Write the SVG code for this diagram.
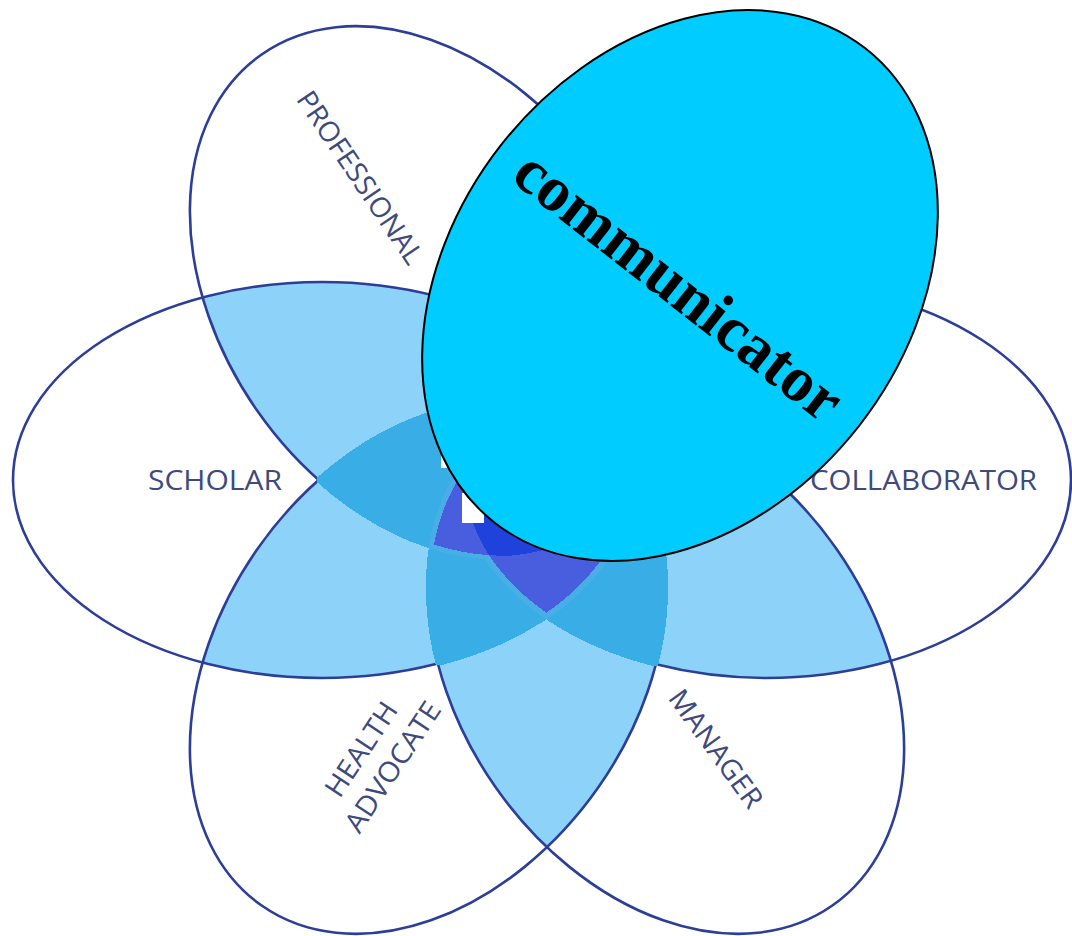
<svg xmlns="http://www.w3.org/2000/svg" width="1072" height="936" viewBox="0 0 1072 936">
<style>
.petal{fill:#000;fill-opacity:.15;stroke:none}
.outline{fill:none;stroke:#2C3E98;stroke-width:2.6}
.lbl{font-family:"Open Sans","Liberation Sans",sans-serif;font-size:28px;fill:#3E4A7C}
.comm{font-family:"Liberation Serif","Times New Roman",serif;font-weight:bold;font-size:64px;fill:#000}
</style>
<defs>
<ellipse id="e-scholar" cx="322" cy="480" rx="309" ry="198"/>
<ellipse id="e-collaborator" cx="767" cy="480" rx="304" ry="198"/>
<ellipse id="e-professional" cx="428" cy="292" rx="290" ry="208" transform="rotate(55 428 292)"/>
<ellipse id="e-communicator" cx="666" cy="292" rx="290" ry="208" transform="rotate(-55 666 292)"/>
<ellipse id="e-health" cx="428" cy="668" rx="290" ry="208" transform="rotate(-55 428 668)"/>
<ellipse id="e-manager" cx="666" cy="668" rx="290" ry="208" transform="rotate(55 666 668)"/>
<filter id="levels" filterUnits="userSpaceOnUse" x="0" y="0" width="1072" height="936" color-interpolation-filters="sRGB">
<feColorMatrix type="matrix" values="0 0 0 1 0 0 0 0 1 0 0 0 0 1 0 0 0 0 0 1"/>
<feComponentTransfer>
<feFuncR type="discrete" tableValues="1 1 1 1 1 1 1 1 1 1 1 .553 .553 .553 .553 .553 .553 .224 .224 .224 .224 .224 .29 .29 .29 .29 .122 .122 .122 .122 .063 .063 .063 .063 .063 .063 .063 .063 .063 .063 .063 .063 .063 .063 .063 .063 .063 .063 .063 .063 .063"/>
<feFuncG type="discrete" tableValues="1 1 1 1 1 1 1 1 1 1 1 .827 .827 .827 .827 .827 .827 .686 .686 .686 .686 .686 .365 .365 .365 .365 .259 .259 .259 .259 .204 .204 .204 .204 .204 .204 .204 .204 .204 .204 .204 .204 .204 .204 .204 .204 .204 .204 .204 .204 .204"/>
<feFuncB type="discrete" tableValues="1 1 1 1 1 1 1 1 1 1 1 .976 .976 .976 .976 .976 .976 .902 .902 .902 .902 .902 .875 .875 .875 .875 .863 .863 .863 .863 .824 .824 .824 .824 .824 .824 .824 .824 .824 .824 .824 .824 .824 .824 .824 .824 .824 .824 .824 .824 .824"/>
</feComponentTransfer>
</filter>
<filter id="core" filterUnits="userSpaceOnUse" x="0" y="0" width="1072" height="936" color-interpolation-filters="sRGB">
<feColorMatrix in="SourceGraphic" type="matrix" values="0 0 0 1 0 0 0 0 1 0 0 0 0 1 0 0 0 0 0 1" result="v"/>
<feComponentTransfer in="v" result="col">
<feFuncR type="discrete" tableValues="1 1 1 1 1 1 1 1 1 1 1 .553 .553 .553 .553 .553 .553 .224 .224 .224 .224 .224 .29 .29 .29 .29 .122 .122 .122 .122 .063 .063 .063 .063 .063 .063 .063 .063 .063 .063 .063 .063 .063 .063 .063 .063 .063 .063 .063 .063 .063"/>
<feFuncG type="discrete" tableValues="1 1 1 1 1 1 1 1 1 1 1 .827 .827 .827 .827 .827 .827 .686 .686 .686 .686 .686 .365 .365 .365 .365 .259 .259 .259 .259 .204 .204 .204 .204 .204 .204 .204 .204 .204 .204 .204 .204 .204 .204 .204 .204 .204 .204 .204 .204 .204"/>
<feFuncB type="discrete" tableValues="1 1 1 1 1 1 1 1 1 1 1 .976 .976 .976 .976 .976 .976 .902 .902 .902 .902 .902 .875 .875 .875 .875 .863 .863 .863 .863 .824 .824 .824 .824 .824 .824 .824 .824 .824 .824 .824 .824 .824 .824 .824 .824 .824 .824 .824 .824 .824"/>
</feComponentTransfer>
<feColorMatrix in="v" type="matrix" values="0 0 0 0 0 0 0 0 0 0 0 0 0 0 0 1 0 0 0 0" result="va"/>
<feComponentTransfer in="va" result="m">
<feFuncA type="discrete" tableValues="0 0 0 0 0 0 0 0 0 0 0 0 0 0 0 0 0 1 1 1 1 1 1 1 1 1 1 1 1 1 1 1 1 1 1 1 1 1 1 1 1 1 1 1 1 1 1 1 1 1 1"/>
</feComponentTransfer>
<feComposite in="col" in2="m" operator="in" result="c3"/>
<feMorphology in="c3" operator="dilate" radius="1.5"/>
</filter>
</defs>
<rect width="1072" height="936" fill="#fff"/>
<g id="overlap-shading" filter="url(#levels)">
<use href="#e-scholar" class="petal"/>
<use href="#e-collaborator" class="petal"/>
<use href="#e-professional" class="petal"/>
<use href="#e-communicator" class="petal"/>
<use href="#e-health" class="petal"/>
<use href="#e-manager" class="petal"/>
</g>
<g id="node-scholar">
<use href="#e-scholar" class="outline"/>
<text class="lbl" x="215" y="490" text-anchor="middle" textLength="134" lengthAdjust="spacingAndGlyphs">SCHOLAR</text>
</g>
<g id="node-collaborator">
<use href="#e-collaborator" class="outline"/>
<text class="lbl" x="923.5" y="490" text-anchor="middle" textLength="227" lengthAdjust="spacingAndGlyphs">COLLABORATOR</text>
</g>
<g id="node-professional">
<use href="#e-professional" class="outline"/>
<text class="lbl" transform="translate(352 183) rotate(56)" text-anchor="middle" textLength="202" lengthAdjust="spacingAndGlyphs">PROFESSIONAL</text>
</g>
<g id="node-communicator-petal">
<use href="#e-communicator" class="outline"/>
</g>
<g id="node-health-advocate">
<use href="#e-health" class="outline"/>
<text class="lbl" transform="translate(369.3 754.6) rotate(-56.5)" text-anchor="middle" textLength="107" lengthAdjust="spacingAndGlyphs">HEALTH</text>
<text class="lbl" transform="translate(400.8 772.1) rotate(-56.5)" text-anchor="middle" textLength="150" lengthAdjust="spacingAndGlyphs">ADVOCATE</text>
</g>
<g id="node-manager">
<use href="#e-manager" class="outline"/>
<text class="lbl" transform="translate(708 754.4) rotate(54)" text-anchor="middle" textLength="139" lengthAdjust="spacingAndGlyphs">MANAGER</text>
</g>
<g id="overlap-core" filter="url(#core)">
<use href="#e-scholar" class="petal"/>
<use href="#e-collaborator" class="petal"/>
<use href="#e-professional" class="petal"/>
<use href="#e-communicator" class="petal"/>
<use href="#e-health" class="petal"/>
<use href="#e-manager" class="petal"/>
</g>
<g id="center-remnant">
<rect x="462" y="493" width="22" height="30" fill="#fff"/>
<rect x="441" y="456" width="6" height="12" fill="#fff"/>
</g>
<g id="node-communicator">
<ellipse cx="680" cy="285.5" rx="301" ry="227.5" transform="rotate(-52 680 285.5)" fill="#00CCFF" stroke="#000" stroke-width="2"/>
<text class="comm" transform="translate(666 302) rotate(38)" text-anchor="middle">communicator</text>
</g>
</svg>
